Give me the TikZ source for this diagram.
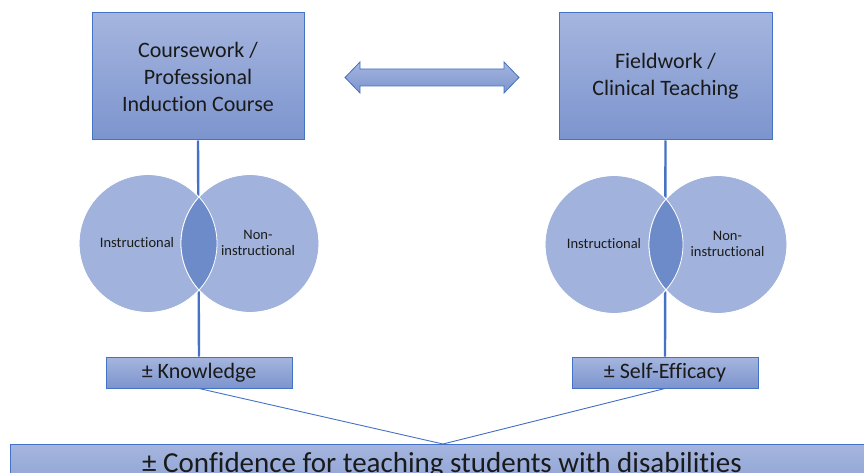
\documentclass[tikz,border=0pt]{standalone}
\usepackage{fontspec}
\setmainfont{Carlito}[Ligatures=NoCommon]
\definecolor{edge}{HTML}{4472C4}
\definecolor{boxtop}{HTML}{A5B5DE}
\definecolor{boxbot}{HTML}{7C94CE}
\definecolor{circ}{HTML}{A1B3DC}
\definecolor{lens}{HTML}{6E8BC9}
\definecolor{ink}{HTML}{1A1A1A}
\tikzset{
  gbox/.style={draw=edge, line width=1pt, top color=boxtop, bottom color=boxbot, inner sep=0pt, align=center, text=ink},
  title/.style={gbox, font=\fontsize{22}{27}\selectfont},
  outcome/.style={gbox, minimum width=186pt, minimum height=31pt, font=\fontsize{22}{24}\selectfont},
  venn/.style={circle, fill=circ, draw=white, line width=0.8pt, minimum size=138pt, inner sep=0pt},
  vlabel/.style={font=\fontsize{14.5}{16}\selectfont, align=center, text=ink},
  stem/.style={draw=edge, line width=2.4pt},
  thin/.style={draw=edge, line width=0.9pt}
}
\begin{document}
\begin{tikzpicture}[x=1pt, y=-1pt]
\useasboundingbox (0,0) rectangle (864,473);
\clip (0,0) rectangle (864,473);

% top boxes
\node[title, minimum width=212pt, minimum height=127pt] (course) at (198,76.5)
  {Coursework /\\Professional\\Induction Course};
\node[title, minimum width=213pt, minimum height=127pt] (field) at (665.5,76.5)
  {Fieldwork /\\Clinical Teaching};

% double arrow
\path[draw=edge, line width=0.8pt, top color=boxtop, bottom color=boxbot]
  (345,77.5) -- (360,62) -- (360,69) -- (504,69) -- (504,62) -- (519,77.5)
  -- (504,93) -- (504,86) -- (360,86) -- (360,93) -- cycle;

% outcome boxes
\node[outcome] (know) at (199,372.5) {± Knowledge};
\node[outcome] (self) at (665,372.5) {± Self-Efficacy};

% stems
\draw[stem] (course.south) -- (know.north);
\draw[stem] (field.south) -- (self.north);

% left venn
\node[venn] (li) at (148,243.5) {};
\node[venn] (ln) at (250,243.5) {};
\begin{scope}
  \clip (148,243.5) circle (69pt);
  \fill[lens] (250,243.5) circle (69pt);
\end{scope}
\draw[white, line width=0.8pt] (148,243.5) circle (69pt);
\draw[white, line width=0.8pt] (250,243.5) circle (69pt);
\node[vlabel] (lit) at (137,243) {Instructional};
\node[vlabel] (lnt) at (258,243) {Non-\\instructional};

% right venn
\node[venn] (ri) at (614,244.5) {};
\node[venn] (rn) at (718,244.5) {};
\begin{scope}
  \clip (614,244.5) circle (69pt);
  \fill[lens] (718,244.5) circle (69pt);
\end{scope}
\draw[white, line width=0.8pt] (614,244.5) circle (69pt);
\draw[white, line width=0.8pt] (718,244.5) circle (69pt);
\node[vlabel] (rit) at (604,244) {Instructional};
\node[vlabel] (rnt) at (727.5,244) {Non-\\instructional};

% bottom box
\path[gbox] (10,444) rectangle (900,520);
\coordinate (meet) at (443,444);
\node[anchor=base, font=\fontsize{29}{32}\selectfont, text=ink] (conf) at (442,472.5)
  {± Confidence for teaching students with disabilities};

% converging lines
\draw[thin] (know.south) -- (meet);
\draw[thin] (self.south) -- (meet);
\end{tikzpicture}
\end{document}
